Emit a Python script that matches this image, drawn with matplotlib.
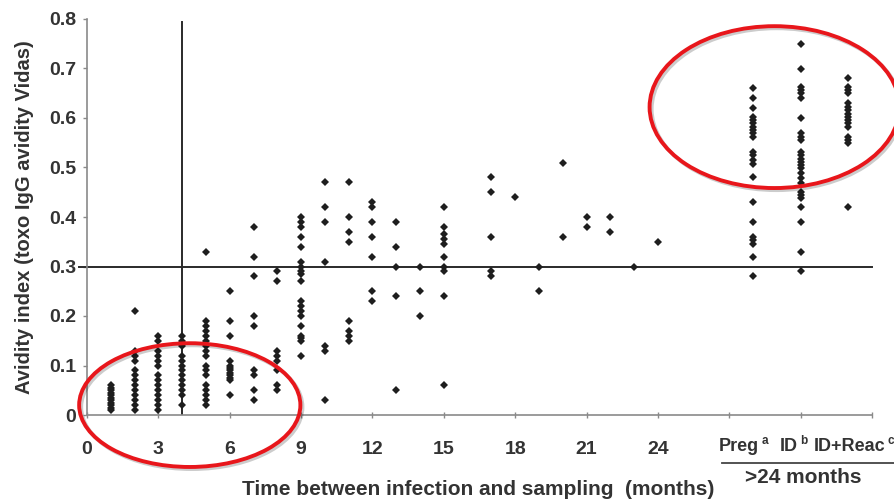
import matplotlib
matplotlib.use("Agg")
import matplotlib.pyplot as plt
from matplotlib.patches import Ellipse
import matplotlib.patheffects as pe
import numpy as np

# avidity values per month
months = [1, 2, 3, 4, 5, 6, 7, 8, 9, 10, 11, 12, 13, 14, 15, 17, 18, 19, 20, 21, 22, 23, 24]
values = [
    [0.01, 0.015, 0.02, 0.025, 0.03, 0.035, 0.04, 0.045, 0.05, 0.055, 0.06],
    [0.21, 0.13, 0.12, 0.11, 0.09, 0.08, 0.07, 0.06, 0.05, 0.04, 0.03, 0.02, 0.01],
    [0.16, 0.15, 0.13, 0.12, 0.11, 0.10, 0.08, 0.07, 0.06, 0.05, 0.04, 0.03, 0.02, 0.01],
    [0.16, 0.15, 0.14, 0.12, 0.11, 0.10, 0.09, 0.08, 0.07, 0.06, 0.05, 0.04, 0.02],
    [0.33, 0.19, 0.18, 0.17, 0.16, 0.15, 0.14, 0.13, 0.12, 0.10, 0.09, 0.08, 0.06, 0.05, 0.04, 0.03, 0.02],
    [0.25, 0.19, 0.16, 0.11, 0.10, 0.095, 0.09, 0.085, 0.08, 0.075, 0.07, 0.04],
    [0.38, 0.32, 0.28, 0.20, 0.18, 0.09, 0.08, 0.05, 0.03],
    [0.29, 0.27, 0.13, 0.12, 0.11, 0.09, 0.06, 0.05],
    [0.40, 0.39, 0.38, 0.36, 0.34, 0.31, 0.30, 0.29, 0.285, 0.27, 0.23, 0.22, 0.21, 0.20, 0.18, 0.16, 0.155, 0.15, 0.12],
    [0.47, 0.42, 0.39, 0.31, 0.14, 0.13, 0.03],
    [0.47, 0.40, 0.37, 0.35, 0.19, 0.17, 0.16, 0.15],
    [0.43, 0.42, 0.39, 0.36, 0.32, 0.25, 0.23],
    [0.39, 0.34, 0.30, 0.24, 0.05],
    [0.30, 0.25, 0.20],
    [0.42, 0.38, 0.365, 0.355, 0.345, 0.32, 0.30, 0.29, 0.24, 0.06],
    [0.48, 0.45, 0.36, 0.29, 0.28],
    [0.44],
    [0.30, 0.25],
    [0.51, 0.36],
    [0.40, 0.38],
    [0.40, 0.37],
    [0.30],
    [0.35],
]

# groups sampled more than 24 months after infection
groups = ["Preg", "ID", "ID+Reac"]
group_sup = ["a", "b", "c"]
group_pos = [28, 30, 32]
label_pos = [27.4, 29.5, 32.05]
group_values = [
    [0.66, 0.64, 0.62, 0.603, 0.596, 0.589, 0.582, 0.576, 0.569, 0.562, 0.532, 0.525, 0.515, 0.508,
     0.48, 0.43, 0.39, 0.36, 0.354, 0.345, 0.32, 0.28],
    [0.75, 0.70, 0.663, 0.656, 0.65, 0.64, 0.60, 0.57, 0.562, 0.556, 0.532, 0.525, 0.518, 0.512, 0.505,
     0.498, 0.488, 0.478, 0.468, 0.45, 0.444, 0.438, 0.42, 0.39, 0.33, 0.29],
    [0.68, 0.663, 0.656, 0.65, 0.63, 0.623, 0.616, 0.609, 0.603, 0.596, 0.589, 0.582, 0.562, 0.556,
     0.549, 0.42],
]

cutoff_avidity = 0.3
cutoff_month = 4

txt = "#333333"
plt.rcParams['font.family'] = ['Liberation Sans', 'DejaVu Sans']
plt.rcParams['font.weight'] = 'bold'

fig = plt.figure(figsize=(8.94, 4.99), dpi=100)
ax = fig.add_axes([87/894, 84/499, 785/894, 396/499])

xs, ys = [], []
for m, v in zip(months, values):
    xs += [m]*len(v)
    ys += v
for p, v in zip(group_pos, group_values):
    xs += [p]*len(v)
    ys += v
ax.plot(xs, ys, 'D', color="#1e1e1e", ms=3.7, mew=0, zorder=3)

# cutoff lines
ax.plot([-0.35, 33], [cutoff_avidity, cutoff_avidity], color="#2a2a2a", lw=1.4, clip_on=False, zorder=2)
ax.plot([cutoff_month, cutoff_month], [0, 0.794], color="#2a2a2a", lw=1.4, zorder=2)

ax.set_xlim(0, 33)
ax.set_ylim(0, 0.8)
ax.set_xticks(np.arange(0, 34, 3))
ax.set_xticklabels([str(t) if t <= 24 else "" for t in range(0, 34, 3)])
ax.set_yticks(np.arange(0, 0.81, 0.1))
ax.set_yticklabels(["0"] + ["%.1f" % t for t in np.arange(0.1, 0.81, 0.1)])

for s in ["top", "right"]:
    ax.spines[s].set_visible(False)
for s in ["left", "bottom"]:
    ax.spines[s].set_color("#8a8a8a")
    ax.spines[s].set_linewidth(1.2)
ax.tick_params(axis='both', colors="#8a8a8a", labelcolor=txt, labelsize=14, width=1, length=3)
ax.tick_params(axis='x', direction='inout', length=4, pad=17)
ax.tick_params(axis='y', pad=5)

ax.set_xlabel("Time between infection and sampling  (months)", fontsize=15, fontweight='bold', color=txt)
ax.set_ylabel("Avidity index (toxo IgG avidity Vidas)", fontsize=14.5, fontweight='bold', color=txt)
ax.xaxis.set_label_coords(0.498, -0.165)
ax.yaxis.set_label_coords(-0.067, 0.5)

# category labels for the >24 months groups
tr = ax.get_xaxis_transform()
for p, g, s in zip(label_pos, groups, group_sup):
    t = ax.text(p, -0.08, g, transform=tr, ha='center', va='center', fontsize=13, color=txt, clip_on=False)
    ax.annotate(s, xy=(1, 1), xycoords=t, xytext=(2, -2), textcoords='offset points',
                ha='left', va='center', fontsize=8.5, color=txt, annotation_clip=False)
ax.plot([26.7, 34], [-0.12, -0.12], transform=tr, color="#444444", lw=1.3, clip_on=False)
ax.text(30.1, -0.157, ">24 months", transform=tr, ha='center', va='center', fontsize=15, color=txt, clip_on=False)

# red circles around low and high avidity groups
shadow = [pe.SimpleLineShadow(offset=(1.5, -1.5), shadow_color='k', alpha=0.2), pe.Normal()]
e1 = Ellipse((4.32, 0.02), 9.3, 0.25, fill=False, ec="#e8161b", lw=2.8, clip_on=False, zorder=5)
e2 = Ellipse((28.9, 0.622), 10.5, 0.327, fill=False, ec="#e8161b", lw=2.8, clip_on=False, zorder=5)
for e in [e1, e2]:
    e.set_path_effects(shadow)
    ax.add_patch(e)

fig.savefig("out.png", dpi=100)
